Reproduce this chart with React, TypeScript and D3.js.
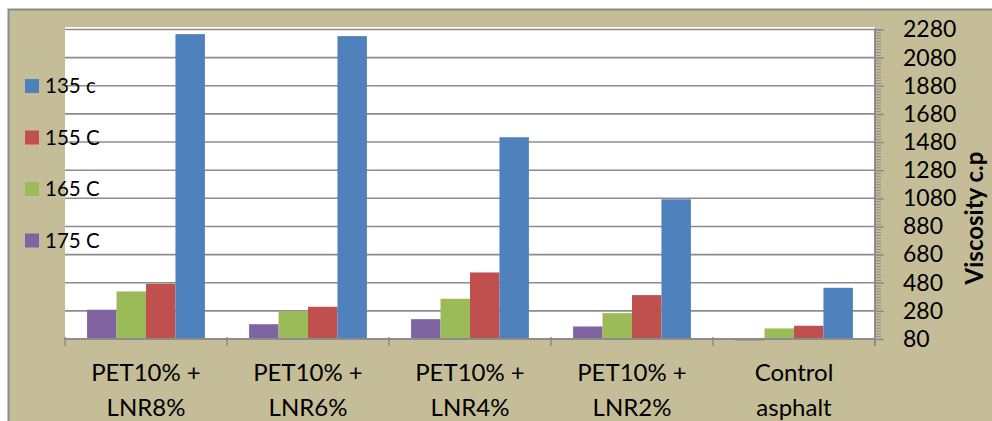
import React, { useEffect, useRef } from 'react';
import * as d3 from 'd3';

const chartW = 992;
const chartH = 421;

// categories, two text lines each
const categories = ['PET10% + LNR8%', 'PET10% + LNR6%', 'PET10% + LNR4%', 'PET10% + LNR2%', 'Control asphalt'];
const categoryLines = [
  ['PET10% +', 'LNR8%'],
  ['PET10% +', 'LNR6%'],
  ['PET10% +', 'LNR4%'],
  ['PET10% +', 'LNR2%'],
  ['Control', 'asphalt'],
];

// series, drawn left to right inside a group
const seriesNames = ['175 C', '165 C', '155 C', '135 c'];
const seriesColors = ['#8064A2', '#9BBB59', '#C0504D', '#4F81BD'];
const t175 = [288, 185, 221, 169, 70];
const t165 = [418, 276, 366, 264, 155];
const t155 = [473, 309, 553, 392, 174];
const t135 = [2247, 2233, 1514, 1073, 444];
const seriesValues = [t175, t165, t155, t135];

// legend is listed top to bottom in reverse
const legendOrder = ['135 c', '155 C', '165 C', '175 C'];

const yTicks = [80, 280, 480, 680, 880, 1080, 1280, 1480, 1680, 1880, 2080, 2280];
const yMinor = d3.range(80, 2281, 20);

const plot = { left: 65, right: 875, top: 29.5, bottom: 339 };
const font = 'Lato, "Open Sans", sans-serif';

export default function App() {
  const yAxisRef = useRef(null);
  const yMinorRef = useRef(null);

  const x = d3.scaleBand<string>().domain(categories).range([plot.left, plot.right]).padding(0);
  const xInner = d3
    .scaleBand<string>()
    .domain(seriesNames)
    .range([0, x.bandwidth()])
    .paddingInner(0)
    .paddingOuter(0.75);
  const y = d3.scaleLinear().domain([80, 2280]).range([plot.bottom, plot.top]);

  useEffect(() => {
    const minor = d3.select(yMinorRef.current);
    minor.selectAll('*').remove();
    minor
      .call(d3.axisRight(y).tickValues(yMinor).tickSize(6).tickFormat(() => ''))
      .call((g) => g.select('.domain').remove())
      .call((g) => g.selectAll('.tick line').attr('stroke', '#8c8c8c'));

    const axis = d3.select(yAxisRef.current);
    axis.selectAll('*').remove();
    axis
      .call(d3.axisRight(y).tickValues(yTicks).tickSize(9).tickPadding(19).tickFormat(d3.format('d')))
      .call((g) => g.select('.domain').remove())
      .call((g) => g.selectAll('.tick line').attr('stroke', '#8c8c8c').attr('stroke-width', 1.5))
      .call((g) =>
        g.selectAll('.tick text').attr('fill', '#000').attr('font-size', 23).attr('font-family', font)
      );
  }, []);

  return (
    <svg
      width={chartW}
      height={chartH}
      viewBox={`0 0 ${chartW} ${chartH}`}
      style={{ position: 'absolute', left: 0, top: 0, background: '#fff' }}
    >
      {/* chart frame */}
      <rect x={8.5} y={9.5} width={chartW + 10} height={chartH + 10} fill="#C4BD97" stroke="#8a8a8a" strokeWidth={2} />

      {/* plot area */}
      <rect x={plot.left} y={27} width={plot.right - plot.left} height={plot.bottom - 27} fill="#fff" />

      {/* gridlines */}
      <g>
        {yTicks.slice(1).map((t) => (
          <line key={t} x1={plot.left} x2={plot.right} y1={y(t)} y2={y(t)} stroke="#8c8c8c" strokeWidth={1.6} />
        ))}
      </g>

      {/* bars */}
      <g>
        {seriesValues.map((vals, si) =>
          vals.map((v, ci) => {
            const y0 = y(80);
            const y1 = y(v);
            return (
              <rect
                key={`${si}-${ci}`}
                x={(x(categories[ci]) ?? 0) + (xInner(seriesNames[si]) ?? 0)}
                y={Math.min(y0, y1)}
                width={xInner.bandwidth()}
                height={Math.abs(y0 - y1)}
                fill={seriesColors[si]}
              />
            );
          })
        )}
      </g>

      {/* x axis */}
      <g>
        <line x1={plot.left} x2={plot.right} y1={plot.bottom} y2={plot.bottom} stroke="#8c8c8c" strokeWidth={2} />
        {categories.concat(['end']).map((c, i) => {
          const xx = i < categories.length ? x(c) ?? 0 : plot.right;
          return <line key={c} x1={xx} x2={xx} y1={plot.bottom - 2} y2={plot.bottom + 7} stroke="#8c8c8c" strokeWidth={1.5} />;
        })}
        {categoryLines.map((lines, i) => (
          <text
            key={categories[i]}
            x={(x(categories[i]) ?? 0) + x.bandwidth() / 2}
            y={381}
            textAnchor="middle"
            fontFamily={font}
            fontSize={24}
            fill="#000"
          >
            <tspan x={(x(categories[i]) ?? 0) + x.bandwidth() / 2} dy={0}>{lines[0]}</tspan>
            <tspan x={(x(categories[i]) ?? 0) + x.bandwidth() / 2} dy={35}>{lines[1]}</tspan>
          </text>
        ))}
      </g>

      {/* right y axis */}
      <line x1={plot.right} x2={plot.right} y1={plot.top - 1} y2={plot.bottom + 7} stroke="#8c8c8c" strokeWidth={2} />
      <g ref={yMinorRef} transform={`translate(${plot.right},0)`}></g>
      <g ref={yAxisRef} transform={`translate(${plot.right},0)`}></g>
      <text
        transform={`translate(983,218) rotate(-90)`}
        textAnchor="middle"
        fontFamily={font}
        fontWeight="bold"
        fontSize={24}
        fill="#000"
      >
        Viscosity c.p
      </text>

      {/* legend */}
      <g>
        {legendOrder.map((name, i) => {
          const cy = 86 + i * 51.5;
          const color = seriesColors[seriesNames.indexOf(name)];
          return (
            <g key={name}>
              <rect x={25} y={cy - 7} width={14} height={14} fill={color} />
              <text x={45} y={cy} dy="0.36em" fontFamily={font} fontSize={20.5} fill="#000">
                {name}
              </text>
            </g>
          );
        })}
      </g>
    </svg>
  );
}
